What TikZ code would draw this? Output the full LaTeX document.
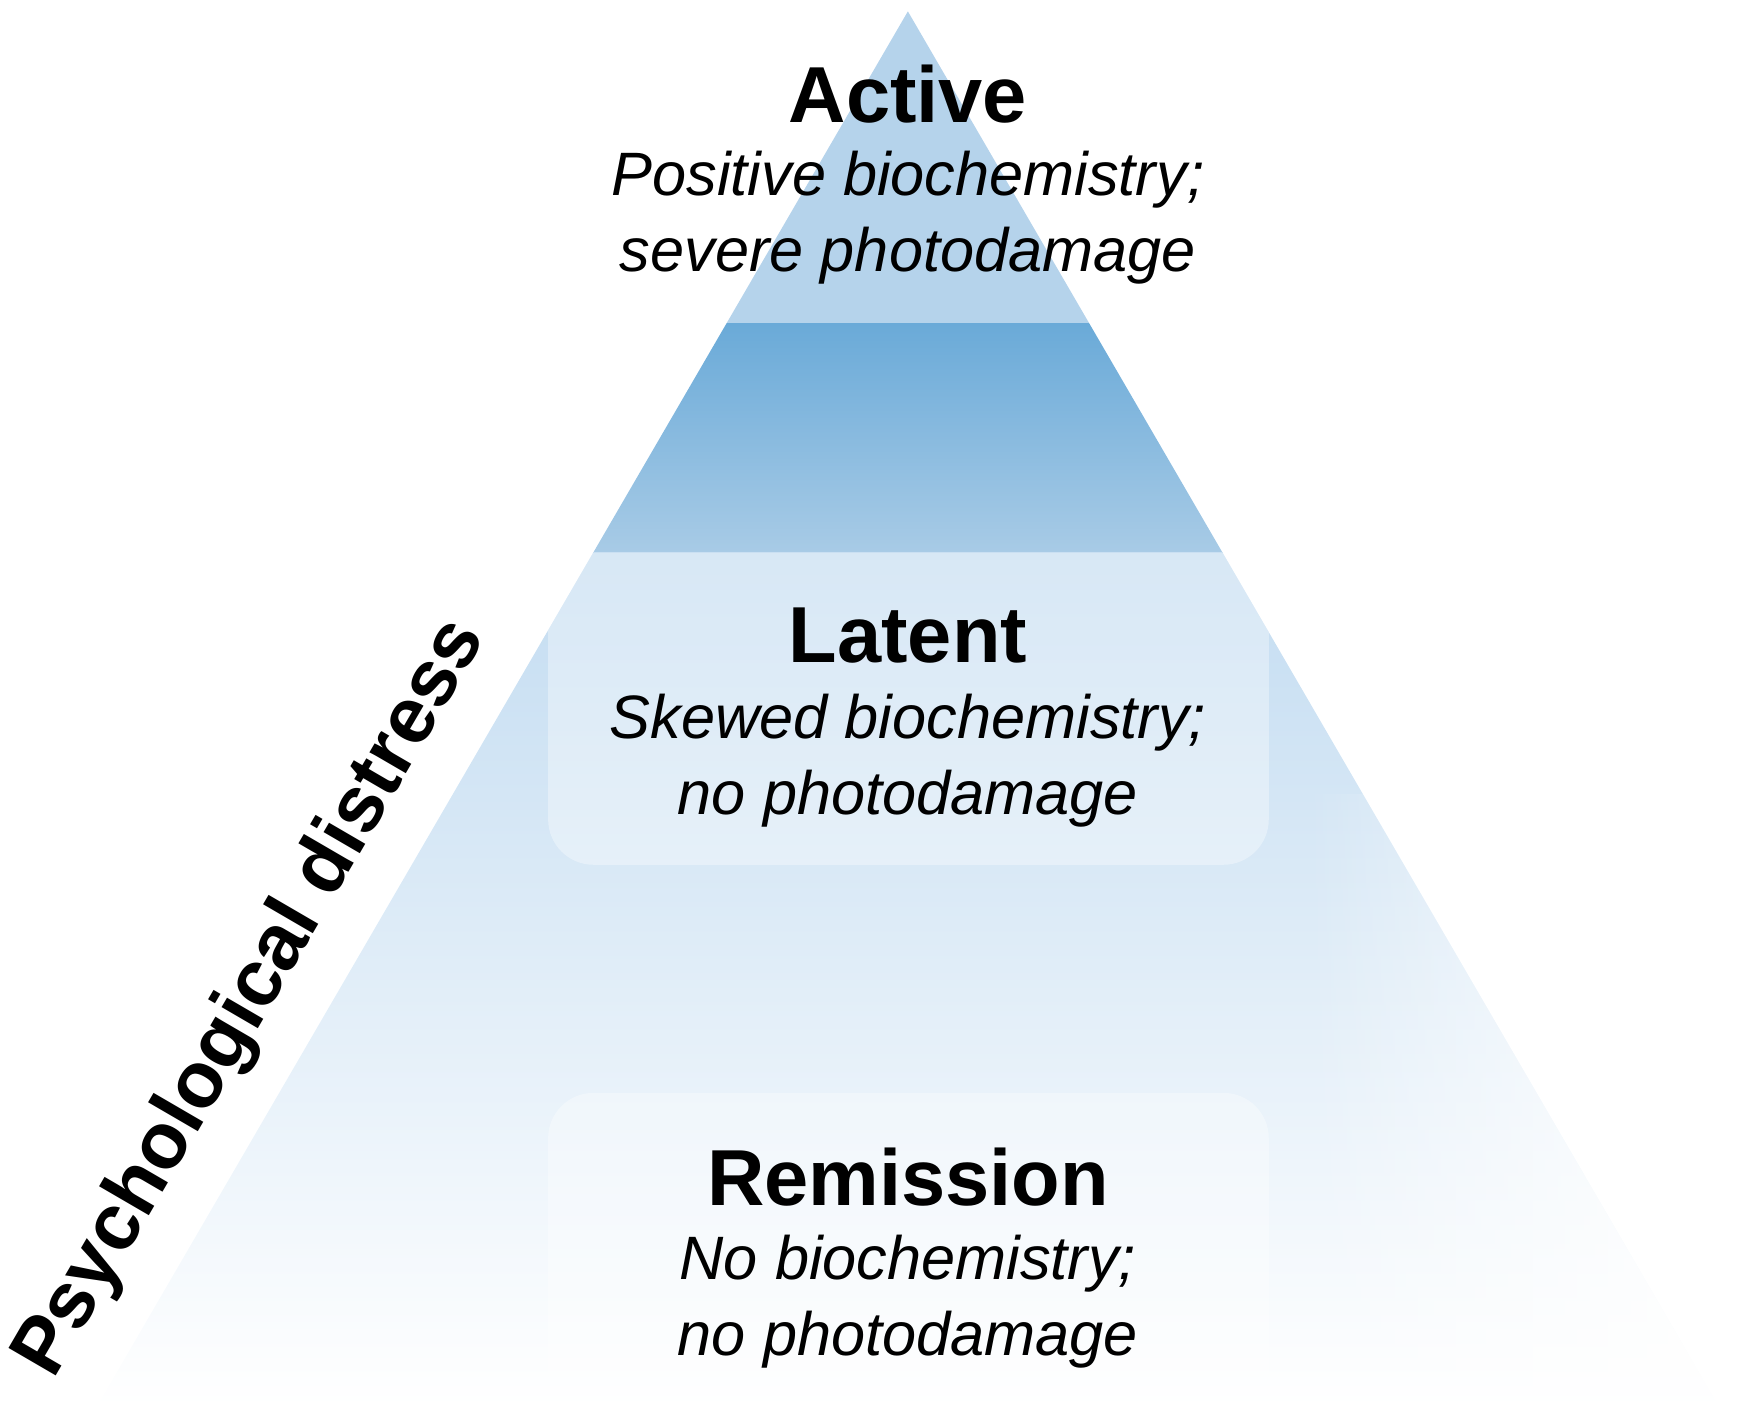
\documentclass[tikz,border=0pt]{standalone}
\usepackage{fontspec}
\setmainfont{Liberation Sans}
\usetikzlibrary{fadings}
\begin{document}
\begin{tikzpicture}[x=0.5pt,y=-0.5pt,
  ttl/.style={font=\fontsize{35}{40}\selectfont\bfseries},
  sub/.style={font=\fontsize{27}{33.5}\selectfont\itshape,align=center}]
\useasboundingbox (0,0) rectangle (1550,1250);
\coordinate (apex) at (800,10);
\coordinate (bl) at (85,1240);
\coordinate (br) at (1515,1240);
\begin{scope}
\clip (apex) -- (br) -- (bl) -- cycle;
\fill[fill={rgb,255:red,181;green,211;blue,235}] (0,0) rectangle (1550,285);
\shade[top color={rgb,255:red,106;green,170;blue,216},bottom color={rgb,255:red,168;green,203;blue,230}] (0,285) rectangle (1550,487);
\shade[top color={rgb,255:red,195;green,220;blue,241},bottom color=white] (0,487) rectangle (1550,1240);
\fill[white,path fading=west] (1150,700) rectangle (1550,1240);
\fill[white,opacity=0.35,rounded corners=20pt] (483,487) -- (1118,487) -- (1118,762) -- (483,762) -- cycle;
\fill[white,opacity=0.35,rounded corners=20pt] (483,963) rectangle (1118,1280);
\end{scope}
\node[ttl] (a) at (800,83) {Active};
\node[sub] (as) at (800,192) {Positive biochemistry;\\severe photodamage};
\node[ttl] (l) at (800,560) {Latent};
\node[sub] (ls) at (800,670) {Skewed biochemistry;\\no photodamage};
\node[ttl] (r) at (800,1037) {Remission};
\node[sub] (rs) at (800,1147) {No biochemistry;\\no photodamage};
\node[font=\fontsize{35}{40}\selectfont\bfseries,rotate=59.8] (p) at (222,880) {Psychological distress};
\end{tikzpicture}
\end{document}
